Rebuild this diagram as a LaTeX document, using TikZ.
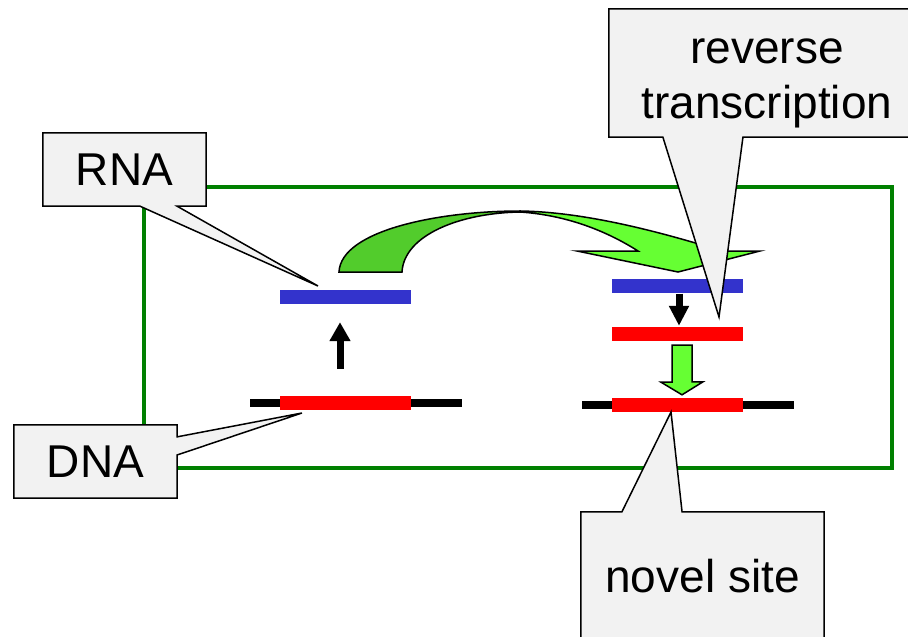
\documentclass[tikz,border=0pt]{standalone}
\usepackage{fontspec}
\setmainfont{Liberation Sans}
\usetikzlibrary{arrows.meta, calc}
\pgfdeclarelayer{front}
\pgfsetlayers{main,front}
\definecolor{rnablue}{RGB}{51,51,204}
\definecolor{dnared}{RGB}{255,0,0}
\definecolor{cellgreen}{RGB}{0,128,0}
\definecolor{jumpgreen}{RGB}{102,255,51}
\definecolor{jumpdark}{RGB}{82,204,44}
\definecolor{calloutgray}{RGB}{242,242,242}

\begin{document}
\begin{tikzpicture}[x=1pt, y=-1pt,
  bar/.style={inner sep=0pt, minimum width=131pt, minimum height=14pt},
  rnabar/.style={bar, fill=rnablue},
  dnabar/.style={bar, fill=dnared},
  flank/.style={inner sep=0pt, minimum width=212pt, minimum height=8pt, fill=black},
  cellframe/.style={draw=cellgreen, line width=4pt},
  thinarrow/.style={line width=7pt, -{Triangle[width=20pt, length=19pt]}},
  jump/.style={draw, line width=1.5pt, line join=miter},
  callout/.style={draw, line width=1.5pt, fill=calloutgray, line join=miter},
  labelbox/.style={inner sep=0pt, font=\fontsize{46}{55}\selectfont, align=center}]
  \useasboundingbox (0,0) rectangle (908,637);
  \clip (0,0) rectangle (908,637);
  \draw[cellframe] (144,187) rectangle (892,468);
  % original locus
  \node[flank] (flankL) at (356,403) {};
  \node[dnabar] (dnaL) at (345.5,403) {};
  \node[rnabar] (rnaL) at (345.5,297) {};
  \draw[thinarrow, shorten <=27pt, shorten >=18pt] ([xshift=-5.5pt]dnaL.north) -- ([xshift=-5.5pt]rnaL.south);
  % novel locus
  \node[flank] (flankR) at (687.5,405) {};
  \node[dnabar] (dnaR) at (677,405) {};
  \node[rnabar] (rnaR) at (677.5,285.5) {};
  \node[dnabar] (cdnaR) at (677.5,334) {};
  \draw[thinarrow, -{Triangle[width=19pt, length=20pt]}, shorten <=1pt, shorten >=1pt] ([xshift=1.5pt]rnaR.south) -- ([xshift=1.5pt]cdnaR.north);
  \draw[jump, fill=jumpgreen] ($(dnaR.north)+(5,-3)$) -- ++(21,-13) -- ++(-11,0) -- ($(cdnaR.south)+(14.5,4)$) -- ++(-20,0) -- ++(0,37) -- ++(-11,0) -- cycle;
  % curved jump arrow
  \draw[jump, fill=jumpdark] (339,272) -- (402,272) .. controls (404,235) and (460,213) .. (520,212) -- (520,211) .. controls (440,211) and (341,230) .. (339,272) -- cycle;
  \draw[jump, fill=jumpgreen] (520,211) .. controls (590,212) and (670,235) .. (722,251) -- (760,251) -- (678,272) -- (577,251) -- (638,251) .. controls (605,230) and (565,215) .. (520,212) -- cycle;
  % callouts
  \begin{pgfonlayer}{front}
    \node[labelbox, minimum width=163pt, minimum height=73pt] (rna) at (124.5,169.5) {RNA};
    \node[labelbox, minimum width=163pt, minimum height=73pt] (dna) at (95.5,461.5) {DNA};
    \node[labelbox, minimum width=316pt, minimum height=128pt] (rt) at (767,73) {\rule{0pt}{45pt}reverse\\transcription};
    \node[labelbox, minimum width=243pt, minimum height=129pt] (site) at (702.5,576.5) {novel site};
  \end{pgfonlayer}
  \coordinate (rnatip) at (318,286);
  \coordinate (dnatip) at (302,413);
  \coordinate (rttip) at (719,317);
  \coordinate (sitetip) at (671,412);
  \draw[callout] (rna.north west) -- (rna.north east) -- (rna.south east) -- ($(rna.south west)!0.822!(rna.south east)$) -- (rnatip) -- ($(rna.south west)!0.595!(rna.south east)$) -- (rna.south west) -- cycle;
  \draw[callout] (dna.north west) -- (dna.north east) -- ($(dna.north east)!0.164!(dna.south east)$) -- (dnatip) -- ($(dna.north east)!0.411!(dna.south east)$) -- (dna.south east) -- (dna.south west) -- cycle;
  \draw[callout] (rt.north west) -- (rt.north east) -- (rt.south east) -- ($(rt.south west)!0.424!(rt.south east)$) -- (rttip) -- ($(rt.south west)!0.171!(rt.south east)$) -- (rt.south west) -- cycle;
  \draw[callout] (site.north west) -- ($(site.north west)!0.169!(site.north east)$) -- (sitetip) -- ($(site.north west)!0.416!(site.north east)$) -- (site.north east) -- (site.south east) -- (site.south west) -- cycle;
\end{tikzpicture}
\end{document}
